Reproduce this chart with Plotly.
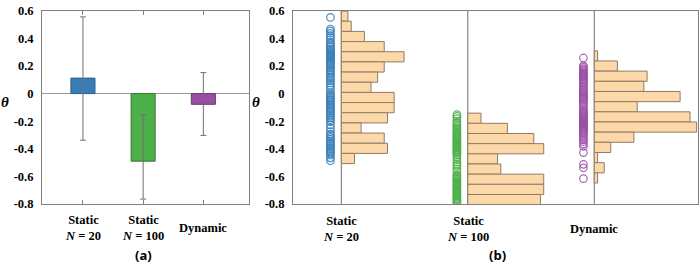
import plotly.graph_objects as go

# ---------------- data ----------------
groups = ["Static N=20", "Static N=100", "Dynamic"]
group_pos = [1, 2, 3]

mean_theta = [0.112, -0.490, -0.078]
err_plus = [0.444, 0.335, 0.230]
err_minus = [0.450, 0.275, 0.225]

bin_width = 0.0737
hist_top = [0.598, -0.142, 0.310]
hist_counts = [
    [2, 3, 7, 13, 19, 13, 11, 9, 16, 16, 14, 6, 13, 14, 4],
    [4, 12, 20, 23, 9, 10, 23, 23, 22],
    [1, 7, 16, 15, 26, 13, 29, 31, 12, 5, 1, 3, 1],
]

theta_static20 = [0.552, 0.468, 0.455, 0.437, 0.421, 0.405, 0.392, 0.371, 0.362, 0.349, 0.338,
                  0.326, 0.317, 0.305, 0.297, 0.288, 0.281, 0.272, 0.266, 0.258, 0.249, 0.240,
                  0.232, 0.221, 0.208, 0.196, 0.187, 0.174, 0.163, 0.149, 0.137, 0.121, 0.108,
                  0.094, 0.077, 0.061, 0.043, 0.026, 0.004, -0.008, -0.019, -0.031, -0.042,
                  -0.051, -0.063, -0.074, -0.083, -0.094, -0.106, -0.117, -0.128, -0.139,
                  -0.151, -0.163, -0.176, -0.189, -0.204, -0.227, -0.251, -0.276, -0.294,
                  -0.306, -0.318, -0.331, -0.343, -0.356, -0.367, -0.378, -0.389, -0.401,
                  -0.412, -0.424, -0.433, -0.447, -0.466, -0.487]
theta_static100 = [-0.153, -0.166, -0.181, -0.199, -0.214, -0.226, -0.237, -0.249, -0.258,
                   -0.268, -0.279, -0.287, -0.296, -0.304, -0.311, -0.319, -0.327, -0.335,
                   -0.342, -0.351, -0.358, -0.366, -0.373, -0.381, -0.388, -0.396, -0.404,
                   -0.411, -0.419, -0.427, -0.434, -0.446, -0.462, -0.478, -0.497, -0.513,
                   -0.528, -0.546, -0.566, -0.587, -0.596, -0.604, -0.613, -0.621, -0.629,
                   -0.638, -0.647, -0.655, -0.663, -0.671, -0.679, -0.688, -0.696, -0.704,
                   -0.712, -0.721, -0.729, -0.737, -0.745, -0.753, -0.761, -0.769, -0.777,
                   -0.786, -0.795]
theta_dynamic = [0.258, 0.203, 0.192, 0.181, 0.172, 0.163, 0.152, 0.143, 0.134, 0.126, 0.117,
                 0.108, 0.099, 0.088, 0.078, 0.066, 0.054, 0.043, 0.031, 0.019, 0.009, 0.001,
                 -0.008, -0.016, -0.024, -0.033, -0.041, -0.050, -0.061, -0.074, -0.088,
                 -0.101, -0.114, -0.126, -0.135, -0.143, -0.151, -0.159, -0.167, -0.175,
                 -0.183, -0.191, -0.199, -0.207, -0.214, -0.222, -0.229, -0.237, -0.244,
                 -0.252, -0.259, -0.267, -0.274, -0.283, -0.296, -0.309, -0.322, -0.336,
                 -0.349, -0.366, -0.383, -0.428, -0.513, -0.538, -0.617]
theta_samples = [theta_static20, theta_static100, theta_dynamic]

y_ticks = [0.6, 0.4, 0.2, 0, -0.2, -0.4, -0.6, -0.8]
y_ticktext = ["0.6", "0.4", "0.2", "0", "-0.2", "-0.4", "-0.6", "-0.8"]
group_labels = ["Static<br><i>N</i> = 20", "Static<br><i>N</i> = 100", "Dynamic"]

# ---------------- style ----------------
W, H = 700, 270
colors = ["#377eb8", "#4daf4a", "#984ea3"]
edge_colors = ["#2a5f8c", "#357a33", "#6e3778"]
ring_colors = ["rgba(55,126,184,0.9)", "rgba(77,175,74,0.9)", "rgba(152,78,163,0.85)"]
axis_col = "#808080"
serif = "Liberation Serif"
hist_fill = "#fdd9a9"
hist_edge = "#8f7b66"
count_scale = 0.0261     # x-units per count in panel (b)
dot_offset = 0.086       # circles left of histogram baseline


def py(px):
    return 1 - px / H


y_dom = [py(207.7), py(4)]

fig = go.Figure()

# ---- panel (a): bars with error bars ----
for i in range(3):
    fig.add_trace(go.Bar(
        x=[group_pos[i]], y=[mean_theta[i]], width=0.4,
        marker=dict(color=colors[i], line=dict(color=edge_colors[i], width=1)),
        error_y=dict(type="data", symmetric=False, array=[err_plus[i]],
                     arrayminus=[err_minus[i]], color="#707070", thickness=1, width=3),
        xaxis="x", yaxis="y", showlegend=False))

# ---- panel (b): scatter + horizontal histograms ----
for i in range(3):
    counts = hist_counts[i]
    centers = [hist_top[i] - (k + 0.5) * bin_width for k in range(len(counts))]
    fig.add_trace(go.Bar(
        orientation="h", y=centers, x=[c * count_scale for c in counts],
        base=group_pos[i], width=bin_width,
        marker=dict(color=hist_fill, line=dict(color=hist_edge, width=1)),
        xaxis="x2", yaxis="y2", showlegend=False))
    vals = theta_samples[i]
    fig.add_trace(go.Scatter(
        x=[group_pos[i] - dot_offset] * len(vals), y=vals, mode="markers",
        marker=dict(symbol="circle-open", size=7.5, color=ring_colors[i],
                    line=dict(width=1.2, color=ring_colors[i])),
        xaxis="x2", yaxis="y2", showlegend=False))

# vertical baseline lines in panel (b)
shapes = []
for i in range(3):
    shapes.append(dict(type="line", xref="x2", yref="y2 domain", x0=group_pos[i],
                       x1=group_pos[i], y0=0, y1=1, line=dict(color="#707070", width=1),
                       layer="below"))

tickfont = dict(family=serif, size=12.5, color="black", weight="bold")

fig.update_layout(
    width=W, height=H, margin=dict(l=0, r=0, t=0, b=0),
    paper_bgcolor="white", plot_bgcolor="white", barmode="overlay",
    shapes=shapes,
    xaxis=dict(domain=[42 / W, 248.5 / W], range=[0.32, 3.75], tickvals=group_pos,
               showticklabels=False, ticks="inside", ticklen=4, tickcolor=axis_col,
               showline=True, linecolor=axis_col, linewidth=1, mirror="ticks",
               showgrid=False, zeroline=False, anchor="y"),
    yaxis=dict(domain=y_dom, range=[-0.8, 0.6], tickvals=y_ticks, ticktext=y_ticktext,
               tickfont=tickfont, ticks="", showline=True, linecolor=axis_col,
               linewidth=1, mirror=True, showgrid=False, zeroline=True,
               zerolinecolor="#9a9a9a", zerolinewidth=1, anchor="x",
               ticklabelstandoff=5, ticklabeloverflow="allow"),
    yaxis3=dict(overlaying="y", side="right", anchor="x", range=[-0.8, 0.6],
                tickvals=y_ticks, showticklabels=False, ticks="inside", ticklen=4,
                tickcolor=axis_col, showgrid=False, zeroline=False, showline=False),
    xaxis2=dict(domain=[293 / W, 698 / W], range=[0.618, 3.82], showticklabels=False,
                ticks="", showline=True, linecolor=axis_col, linewidth=1, mirror=True,
                showgrid=False, zeroline=False, anchor="y2"),
    yaxis2=dict(domain=y_dom, range=[-0.8, 0.6], tickvals=y_ticks, ticktext=y_ticktext,
                tickfont=tickfont, ticks="", showline=True, linecolor=axis_col,
                linewidth=1, mirror=True, showgrid=False, zeroline=False, anchor="x2",
                ticklabelstandoff=5, ticklabeloverflow="allow"),
    yaxis4=dict(overlaying="y2", side="right", anchor="x2", range=[-0.8, 0.6],
                tickvals=y_ticks, showticklabels=False, ticks="inside", ticklen=4,
                tickcolor=axis_col, showgrid=False, zeroline=False, showline=False),
)

ann = []
labfont = dict(family=serif, size=12.5, color="black", weight="bold")
for xr, yc in (("x", 233), ("x2", 234)):
    for i in range(3):
        ann.append(dict(text=group_labels[i], x=group_pos[i], y=py(yc), xref=xr,
                        yref="paper", showarrow=False, font=labfont,
                        xanchor="center", yanchor="middle"))

thfont = dict(family=serif, size=15, color="black", weight="bold", style="italic")
ann.append(dict(text="θ", x=4.5 / W, y=py(100), xref="paper", yref="paper",
                showarrow=False, font=thfont, xanchor="center", yanchor="middle"))
ann.append(dict(text="θ", x=256 / W, y=py(100), xref="paper", yref="paper",
                showarrow=False, font=thfont, xanchor="center", yanchor="middle"))

pfont = dict(family="Open Sans", size=13, color="black", weight="bold")
ann.append(dict(text="(a)", x=143 / W, y=py(262), xref="paper", yref="paper",
                showarrow=False, font=pfont, xanchor="center", yanchor="middle"))
ann.append(dict(text="(b)", x=497 / W, y=py(262), xref="paper", yref="paper",
                showarrow=False, font=pfont, xanchor="center", yanchor="middle"))

fig.update_layout(annotations=ann)
fig.write_html("out.html", config={"displayModeBar": False, "responsive": False},
               post_script="document.body.style.margin='0px';document.body.style.overflow='hidden';")
